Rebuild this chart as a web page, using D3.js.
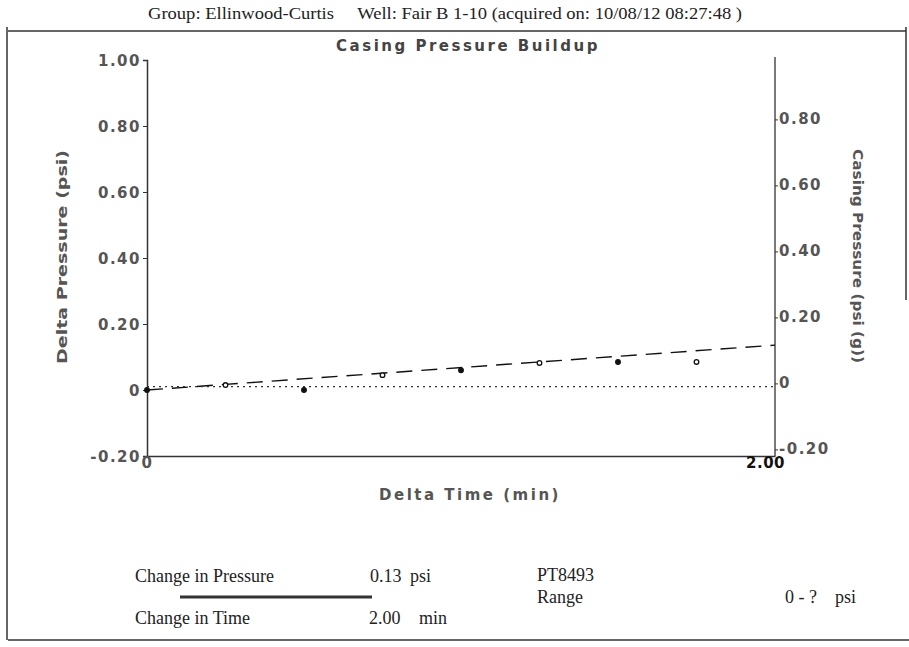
<!DOCTYPE html>
<html lang="en">
<head>
    <meta charset="UTF-8">
    <title>Casing Pressure Buildup</title>
    <script src="https://d3js.org/d3.v7.min.js"></script>
    <style>
        body { margin: 0; background: #fff; }
        .tick-label { font: bold 15px 'DejaVu Sans', sans-serif; fill: #555; letter-spacing: 1.5px; }
        .serif { font: 18px 'Liberation Serif', 'Times New Roman', serif; fill: #222; }
        .axis-title { font: bold 14px 'DejaVu Sans', sans-serif; fill: #555; }
    </style>
</head>
<body>
<div id="chart"></div>
<script>
    // readings taken off the scanned plot
    const deltaTime = [0, 0.25, 0.5, 0.75, 1.0, 1.25, 1.5, 1.75];
    const deltaPressure = [0, 0.015, 0, 0.045, 0.06, 0.082, 0.085, 0.085];
    const fitTime = [0, 2.0];
    const fitPressure = [0, 0.136];
    const casingTime = [0, 2.0];
    const casingPressure = [-0.01, -0.01];
    const leftTicks = [1.0, 0.8, 0.6, 0.4, 0.2, 0, -0.2];
    const rightTicks = [0.8, 0.6, 0.4, 0.2, 0, -0.2];
    const xTicks = [0, 2.0];

    // plain hyphen for negatives, like the original printout
    const fmt = d => d === 0 ? "0" : (d < 0 ? "-" : "") + Math.abs(d).toFixed(2);

    const W = 909, H = 647;
    const svg = d3.select("#chart").append("svg")
        .attr("width", W).attr("height", H);

    // frame
    const frame = svg.append("g").attr("stroke", "#333").attr("fill", "none");
    frame.append("line").attr("x1", 8).attr("x2", 906).attr("y1", 31).attr("y2", 31).attr("stroke-width", 1.5);
    frame.append("line").attr("x1", 7).attr("x2", 7).attr("y1", 27).attr("y2", 640).attr("stroke-width", 1.5);
    frame.append("line").attr("x1", 906).attr("x2", 906).attr("y1", 27).attr("y2", 300).attr("stroke-width", 1.5);
    frame.append("line").attr("x1", 8).attr("x2", 909).attr("y1", 640).attr("y2", 640).attr("stroke-width", 1.5);

    svg.append("text").attr("class", "serif")
        .attr("x", 148).attr("y", 19)
        .style("font-size", "16px")
        .attr("textLength", 594).attr("lengthAdjust", "spacingAndGlyphs")
        .text("Group: Ellinwood-Curtis\u00a0\u00a0\u00a0\u00a0\u00a0Well: Fair B 1-10 (acquired on: 10/08/12 08:27:48 )");

    svg.append("text")
        .attr("x", 468).attr("y", 51).attr("text-anchor", "middle")
        .style("font", "bold 15px 'DejaVu Sans', sans-serif")
        .style("letter-spacing", "2.5px").style("fill", "#444")
        .text("Casing Pressure Buildup");

    // scales
    const x = d3.scaleLinear().domain([0, 2]).range([147, 775]);
    const y = d3.scaleLinear().domain([-0.2, 1.0]).range([456, 60]);
    const y2 = d3.scaleLinear().domain([-0.22, 0.98]).range([456, 60]);

    // left axis
    const leftAxis = svg.append("g").attr("transform", "translate(147,0)")
        .call(d3.axisLeft(y).tickValues(leftTicks).tickSize(4).tickFormat(fmt));
    leftAxis.select(".domain").attr("stroke", "#333").attr("stroke-width", 1.5);
    leftAxis.selectAll(".tick line").attr("stroke", "#333");
    leftAxis.selectAll(".tick text").attr("class", "tick-label").attr("x", -6).attr("dy", "0.35em");

    // right axis
    const rightAxis = svg.append("g").attr("transform", "translate(775,0)")
        .call(d3.axisRight(y2).tickValues(rightTicks).tickSize(3).tickFormat(fmt));
    rightAxis.select(".domain").attr("stroke", "#333").attr("stroke-width", 1.3)
        .attr("d", "M0,57V456");
    rightAxis.selectAll(".tick line").attr("stroke", "#333");
    rightAxis.selectAll(".tick text").attr("class", "tick-label").attr("x", 4).attr("dy", "0.3em");

    // bottom axis
    const bottomAxis = svg.append("g").attr("transform", "translate(0,456)")
        .call(d3.axisBottom(x).tickValues(xTicks).tickSize(0).tickFormat(fmt));
    bottomAxis.select(".domain").attr("stroke", "#333").attr("stroke-width", 1.5);
    bottomAxis.selectAll(".tick text").attr("class", "tick-label").attr("y", 1).attr("dy", "0.71em");
    bottomAxis.selectAll(".tick text").filter(d => d === 2)
        .attr("dx", -10).style("fill", "#111").style("letter-spacing", "0.5px");

    // axis titles
    svg.append("text").attr("class", "axis-title")
        .attr("transform", "translate(67,257) rotate(-90)").attr("x", -107)
        .attr("textLength", 214).attr("lengthAdjust", "spacingAndGlyphs")
        .text("Delta Pressure (psi)");
    svg.append("text").attr("class", "axis-title")
        .attr("transform", "translate(853,256) rotate(90)").attr("x", -107)
        .attr("textLength", 214).attr("lengthAdjust", "spacingAndGlyphs")
        .text("Casing Pressure (psi (g))");
    svg.append("text").attr("class", "axis-title")
        .attr("x", 470).attr("y", 500).attr("text-anchor", "middle")
        .style("font-size", "15px").style("letter-spacing", "2.5px")
        .text("Delta Time (min)");

    // series
    const fitLine = d3.line().x((d, i) => x(fitTime[i])).y(d => y(d));
    svg.append("path").datum(fitPressure)
        .attr("d", fitLine).attr("fill", "none")
        .attr("stroke", "#111").attr("stroke-width", 1.4)
        .attr("stroke-dasharray", "16,9");

    const casingLine = d3.line().x((d, i) => x(casingTime[i])).y(d => y2(d));
    svg.append("path").datum(casingPressure)
        .attr("d", casingLine).attr("fill", "none")
        .attr("stroke", "#333").attr("stroke-width", 1.2)
        .attr("stroke-dasharray", "2,4");

    svg.append("g").selectAll("circle")
        .data(deltaPressure)
        .join("circle")
        .attr("cx", (d, i) => x(deltaTime[i]))
        .attr("cy", d => y(d))
        .attr("r", 2.3)
        .attr("fill", (d, i) => i % 2 ? "#fff" : "#111")
        .attr("stroke", "#111").attr("stroke-width", 1.3);

    // summary block
    const info = svg.append("g").attr("class", "serif");
    info.append("text").attr("x", 135).attr("y", 582).text("Change in Pressure");
    info.append("text").attr("x", 370).attr("y", 582).text("0.13");
    info.append("text").attr("x", 410).attr("y", 582).text("psi");
    info.append("text").attr("x", 135).attr("y", 624).text("Change in Time");
    info.append("text").attr("x", 369).attr("y", 624).text("2.00");
    info.append("text").attr("x", 419).attr("y", 624).text("min");
    info.append("text").attr("x", 537).attr("y", 581).text("PT8493");
    info.append("text").attr("x", 537).attr("y", 603).text("Range");
    info.append("text").attr("x", 785).attr("y", 603).text("0 - ?");
    info.append("text").attr("x", 835).attr("y", 603).text("psi");
    svg.append("line").attr("x1", 180).attr("x2", 372).attr("y1", 597).attr("y2", 597)
        .attr("stroke", "#333").attr("stroke-width", 3);
</script>
</body>
</html>
